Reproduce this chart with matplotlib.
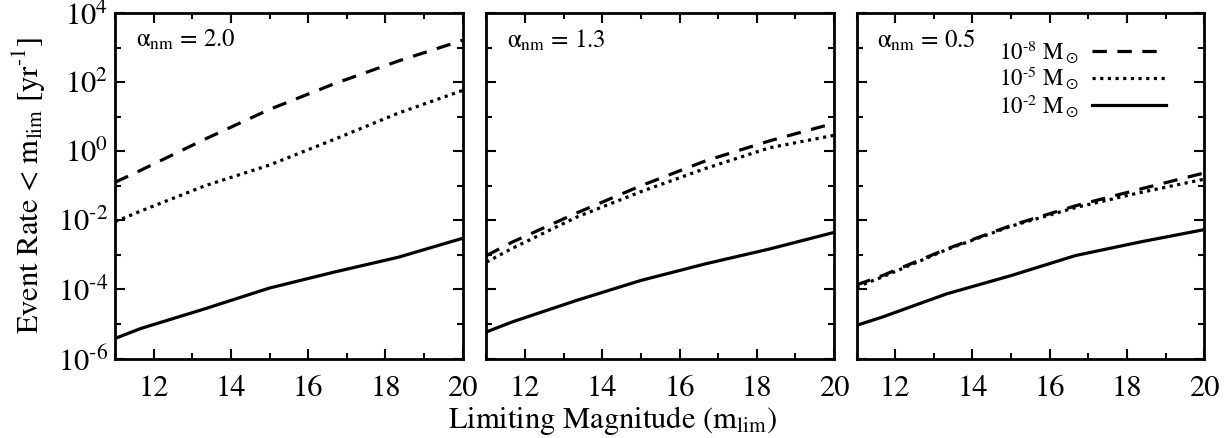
import numpy as np
import matplotlib
matplotlib.use('Agg')
import matplotlib.pyplot as plt
from matplotlib.ticker import FixedLocator, FuncFormatter, NullFormatter

plt.rcParams['font.family'] = ['STIXGeneral', 'DejaVu Serif']
plt.rcParams['mathtext.fontset'] = 'stix'

# limiting magnitude grid
m_lim = [11, 11.67, 13.33, 15, 16.67, 18.33, 20]

# log10 of event rate, per panel (alpha_nm) and per mass
alphas = ['2.0', '1.3', '0.5']
log_m8 = [[-0.90, -0.55, 0.35, 1.21, 1.95, 2.61, 3.21],
          [-3.02, -2.63, -1.79, -1.00, -0.28, 0.30, 0.81],
          [-3.87, -3.60, -2.83, -2.15, -1.58, -1.10, -0.63]]
log_m5 = [[-2.04, -1.73, -1.00, -0.40, 0.34, 1.10, 1.76],
          [-3.21, -2.81, -1.91, -1.17, -0.50, 0.10, 0.46],
          [-3.93, -3.64, -2.85, -2.17, -1.63, -1.20, -0.81]]
log_m2 = [[-5.42, -5.13, -4.56, -3.96, -3.50, -3.07, -2.52],
          [-5.23, -4.94, -4.32, -3.74, -3.26, -2.83, -2.35],
          [-5.04, -4.80, -4.13, -3.60, -3.02, -2.63, -2.27]]

labels = [r'10$^{\text{-8}}$ M$_\odot$', r'10$^{\text{-5}}$ M$_\odot$', r'10$^{\text{-2}}$ M$_\odot$']
styles = [(0, (4.5, 3.3)), (0, (1, 1.4)), '-']


def log_label(v, pos):
    return '10$^{\\text{%d}}$' % int(round(np.log10(v)))


fig = plt.figure(figsize=(12.25, 4.38), dpi=100)
lefts = [0.0939, 0.3971, 0.6992]
w, b, h = 0.2838, 0.1815, 0.7888

for i in range(3):
    ax = fig.add_axes([lefts[i], b, w, h])
    for vals, ls, lab in zip([log_m8[i], log_m5[i], log_m2[i]], styles, labels):
        ax.plot(m_lim, 10 ** np.array(vals), color='black', lw=2.3, linestyle=ls,
                dash_capstyle='butt', label=lab)
    ax.set_yscale('log')
    ax.set_xlim(11, 20)
    ax.set_ylim(1e-6, 1e4)
    ax.set_xticks([12, 14, 16, 18, 20])
    ax.set_xticks([11, 13, 15, 17, 19], minor=True)
    ax.yaxis.set_major_locator(FixedLocator([1e-6, 1e-4, 1e-2, 1e0, 1e2, 1e4]))
    ax.yaxis.set_minor_locator(FixedLocator([1e-5, 1e-3, 1e-1, 1e1, 1e3]))
    ax.yaxis.set_minor_formatter(NullFormatter())
    if i == 0:
        ax.yaxis.set_major_formatter(FuncFormatter(log_label))
    else:
        ax.set_yticklabels([])
    ax.tick_params(which='both', direction='in', top=True, right=True, width=1.5,
                   labelsize=22, colors='black')
    ax.tick_params(which='major', length=7)
    ax.tick_params(axis='x', which='major', pad=12)
    ax.tick_params(axis='y', which='major', pad=5)
    ax.tick_params(which='minor', length=4)
    for s in ax.spines.values():
        s.set_linewidth(2)
    ax.text(0.06, 0.92, 'α$_{\\rm nm}$ = ' + alphas[i], transform=ax.transAxes,
            fontsize=18, va='center', ha='left')
    if i == 2:
        ax.legend(loc='upper right', bbox_to_anchor=(0.935, 0.975), frameon=False,
                  markerfirst=False, fontsize=16.5, handlelength=3.2, handletextpad=0.6,
                  labelspacing=0.0, borderpad=0.2)

fig.text(0.024, b + h / 2, r'Event Rate < m$_{\rm lim}$ [yr$^{\text{-1}}$]', rotation=90,
         ha='center', va='center', fontsize=22)
fig.text(0.5, 0.04, r'Limiting Magnitude (m$_{\rm lim}$)', ha='center', va='center',
         fontsize=22)

fig.savefig('out.png', dpi=100)
